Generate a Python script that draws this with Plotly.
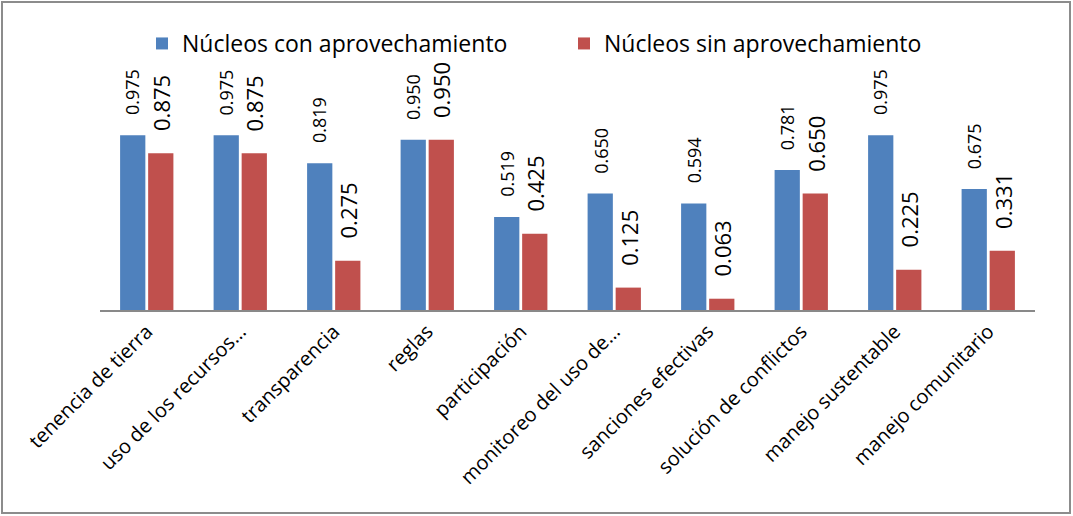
import plotly.graph_objects as go

categories = ["tenencia de tierra", "uso de los recursos…", "transparencia", "reglas",
              "participación", "monitoreo del uso de…", "sanciones efectivas",
              "solución de conflictos", "manejo sustentable", "manejo comunitario"]
con_aprov = [0.975, 0.975, 0.819, 0.950, 0.519, 0.650, 0.594, 0.781, 0.975, 0.675]
sin_aprov = [0.875, 0.875, 0.275, 0.950, 0.425, 0.125, 0.063, 0.650, 0.225, 0.331]
series_names = ["Núcleos con aprovechamiento", "Núcleos sin aprovechamiento"]

BLUE = "#4F81BD"
RED = "#C0504D"
FONT = "Open Sans"

fig = go.Figure()
fig.add_trace(go.Bar(x=categories, y=con_aprov, name=series_names[0],
                     marker=dict(color=BLUE, line=dict(width=0))))
fig.add_trace(go.Bar(x=categories, y=sin_aprov, name=series_names[1],
                     marker=dict(color=RED, line=dict(width=0))))

annotations = []
for c, v in zip(categories, con_aprov):
    annotations.append(dict(x=c, y=v, xref="x", yref="y", text=f"{v:.3f}",
                            textangle=-90, showarrow=False, xanchor="center",
                            yanchor="bottom", xshift=-14, yshift=18,
                            font=dict(family=FONT, size=18, color="#000")))
for c, v in zip(categories, sin_aprov):
    annotations.append(dict(x=c, y=v, xref="x", yref="y", text=f"{v:.3f}",
                            textangle=-90, showarrow=False, xanchor="center",
                            yanchor="bottom", xshift=14, yshift=20,
                            font=dict(family=FONT, size=22, color="#000")))

W, H = 1073, 516
L, R, T, B = 100, 38, 95, 206
pw, ph = W - L - R, H - T - B

def px_x(px):
    return (px - L) / pw

def px_y(py):
    return (H - B - py) / ph

fig.update_layout(
    width=W, height=H,
    margin=dict(l=L, r=R, t=T, b=B, autoexpand=False),
    paper_bgcolor="white", plot_bgcolor="white",
    barmode="group", bargap=0.40, bargroupgap=0.1,
    font=dict(family=FONT, color="#000"),
    annotations=annotations,
    showlegend=True,
    legend=dict(orientation="h", x=px_x(142), y=px_y(22), xanchor="left", yanchor="top",
                font=dict(family=FONT, size=23, color="#000"),
                entrywidth=377, bgcolor="rgba(0,0,0,0)"),
    xaxis=dict(showline=True, linecolor="#898989", linewidth=2, ticks="",
               tickangle=-45, tickfont=dict(family=FONT, size=20, color="#000"),
               showgrid=False, zeroline=False),
    yaxis=dict(range=[0, 1.2], visible=False, showgrid=False, zeroline=False),
    shapes=[dict(type="rect", xref="paper", yref="paper", layer="below",
                 x0=px_x(2), x1=px_x(1070), y0=px_y(513), y1=px_y(2),
                 line=dict(color="#8c8c8c", width=2), fillcolor="rgba(0,0,0,0)")],
)

fig.write_html("out.html",
               config={"displayModeBar": False},
               post_script="document.body.style.margin='0';document.body.style.overflow='hidden';")
